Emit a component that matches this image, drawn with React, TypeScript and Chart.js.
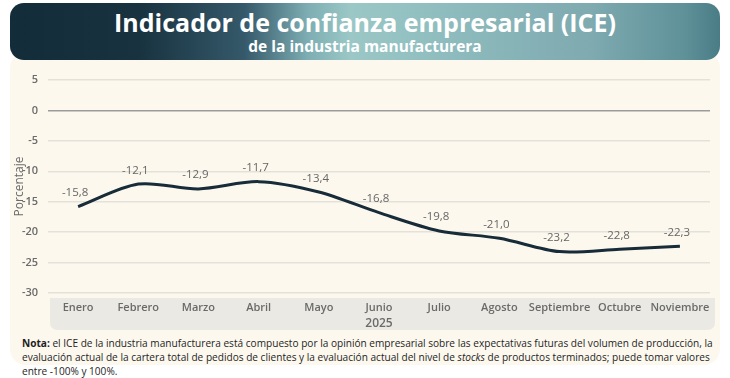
import React, { useEffect, useRef } from "react";
import { Chart, registerables } from "chart.js";

Chart.register(...registerables);

const months = ["Enero", "Febrero", "Marzo", "Abril", "Mayo", "Junio", "Julio", "Agosto", "Septiembre", "Octubre", "Noviembre"];
const iceValues = [-15.8, -12.1, -12.9, -11.7, -13.4, -16.8, -19.8, -21.0, -23.2, -22.8, -22.3];
const yearLabel = "2025";
const yMin = -30;
const yMax = 5;
const yStep = 5;

const FONT = "'Open Sans', sans-serif";

const axisBoxPlugin = {
  id: "axisBox",
  beforeDraw(chart: any) {
    const { ctx, chartArea } = chart;
    const x = chartArea.left + 2;
    const y = chartArea.bottom + 5;
    const w = chartArea.right + 5 - x;
    const h = 32;
    const r = 8;
    ctx.save();
    ctx.fillStyle = "#ebe9e3";
    ctx.beginPath();
    ctx.moveTo(x, y);
    ctx.lineTo(x + w, y);
    ctx.lineTo(x + w, y + h - r);
    ctx.quadraticCurveTo(x + w, y + h, x + w - r, y + h);
    ctx.lineTo(x + r, y + h);
    ctx.quadraticCurveTo(x, y + h, x, y + h - r);
    ctx.closePath();
    ctx.fill();
    ctx.restore();
  },
};

const valueLabelPlugin = {
  id: "valueLabels",
  afterDatasetsDraw(chart: any) {
    const { ctx } = chart;
    const meta = chart.getDatasetMeta(0);
    const data = chart.data.datasets[0].data as number[];
    ctx.save();
    ctx.font = `500 11.5px ${FONT}`;
    ctx.fillStyle = "#666666";
    ctx.textAlign = "center";
    ctx.textBaseline = "bottom";
    meta.data.forEach((pt: any, i: number) => {
      const txt = data[i].toFixed(1).replace(".", ",");
      ctx.fillText(txt, pt.x - 3, pt.y - 8);
    });
    ctx.restore();
  },
};

function ChartCanvas() {
  const ref = useRef<HTMLCanvasElement | null>(null);
  useEffect(() => {
    if (!ref.current) return;
    const chart = new Chart(ref.current, {
      type: "line",
      data: {
        labels: months,
        datasets: [
          {
            data: iceValues,
            borderColor: "#172b38",
            borderWidth: 3,
            tension: 0.3,
            pointRadius: 0,
            fill: false,
          },
        ],
      },
      options: {
        animation: false,
        responsive: false,
        maintainAspectRatio: false,
        layout: { padding: { top: 18, right: 20, left: 12, bottom: 0 } },
        plugins: { legend: { display: false }, tooltip: { enabled: false } },
        scales: {
          x: {
            offset: true,
            grid: { display: false, drawTicks: false },
            border: { display: false },
            ticks: {
              color: "#6a6a6a",
              font: { family: FONT, size: 11, weight: 600 },
              padding: 8,
              maxRotation: 0,
              autoSkip: false,
            },
            title: {
              display: true,
              text: yearLabel,
              color: "#6a6a6a",
              font: { family: FONT, size: 12, weight: 600 },
              padding: { top: 0, bottom: 0 },
            },
            afterFit(scale: any) {
              scale.height = 38;
            },
          },
          y: {
            min: yMin,
            max: yMax,
            grid: {
              drawTicks: false,
              lineWidth: 1.5,
              color: (c: any) => (c.tick && c.tick.value === 0 ? "#9c9c9c" : "#e4e1da"),
            },
            border: { display: false },
            ticks: {
              stepSize: yStep,
              color: "#6a6a6a",
              font: { family: FONT, size: 11, weight: 600 },
              padding: 10,
            },
            title: {
              display: true,
              text: "Porcentaje",
              color: "#6a6a6a",
              font: { family: FONT, size: 12, weight: 500 },
              padding: { top: 0, bottom: 0 },
            },
            afterFit(scale: any) {
              scale.width = 36;
            },
          },
        },
      },
      plugins: [axisBoxPlugin, valueLabelPlugin],
    });
    return () => chart.destroy();
  }, []);
  return <canvas ref={ref} width={730} height={269} style={{ position: "absolute", left: 0, top: 62, width: 730, height: 269 }} />;
}

export default function App() {
  return (
    <div style={{ position: "fixed", left: 0, top: 0, width: 730, height: 378, background: "#ffffff", overflow: "hidden", fontFamily: FONT }}>
      <div style={{ position: "absolute", left: 10, top: 52, width: 710, height: 313, background: "#fcf8ee", borderRadius: 16 }} />
      <div
        style={{
          position: "absolute",
          left: 10,
          top: 3,
          width: 710,
          height: 57,
          borderRadius: 14,
          background:
            "linear-gradient(90deg, #132c3a 0%, #18323f 18%, #35596a 33%, #7eaeb3 42%, #9bc8c6 48%, #8ebbbd 62%, #7eaab0 82%, #5f9199 95%, #4a7c86 100%)",
          color: "#ffffff",
          textAlign: "center",
        }}
      >
        <div style={{ fontSize: 25, fontWeight: 700, lineHeight: "30px", marginTop: 4 }}>Indicador de confianza empresarial (ICE)</div>
        <div style={{ fontSize: 15.5, fontWeight: 700, lineHeight: "18px" }}>de la industria manufacturera</div>
      </div>
      <ChartCanvas />
      <div style={{ position: "absolute", left: 22, top: 336, fontSize: 10.1, lineHeight: "14px", color: "#1e1e1e", whiteSpace: "nowrap" }}>
        <b>Nota:</b> el ICE de la industria manufacturera está compuesto por la opinión empresarial sobre las expectativas futuras del volumen de producción, la
        <br />
        evaluación actual de la cartera total de pedidos de clientes y la evaluación actual del nivel de <i>stocks</i> de productos terminados; puede tomar valores
        <br />
        entre -100% y 100%.
      </div>
    </div>
  );
}
